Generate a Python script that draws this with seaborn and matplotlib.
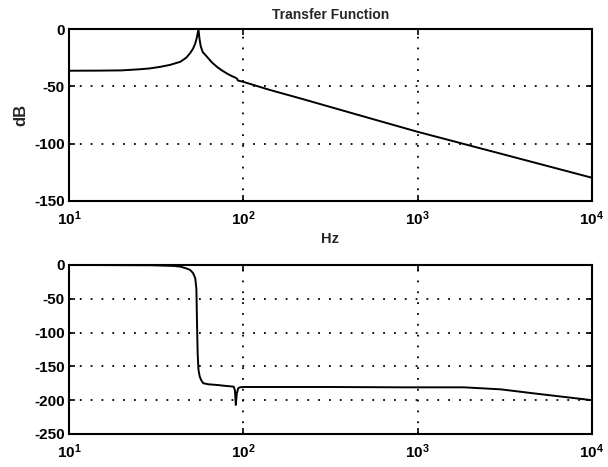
import matplotlib
matplotlib.use("Agg")
import matplotlib.pyplot as plt
import seaborn as sns
import pandas as pd
import numpy as np

# Magnitude (dB)
mag_freq = [10, 15, 20, 25.6, 29, 33.4, 38, 43.5, 47, 49.5, 51.5, 53, 54.2, 55.3,
            56.0, 57.0, 58.5, 61.8, 66, 70.6, 75, 80.5, 86, 90, 92, 93, 100, 143,
            213, 500, 1000, 3000, 10000]
mag_db = [-36.3, -36.2, -36.0, -35.0, -34.3, -32.9, -31.2, -28.5, -25.0, -21.0, -17.0,
          -12.5, -7.0, 0.0, -8.0, -15.0, -20.0, -24.0, -29.0, -32.9, -35.8, -38.7,
          -41.0, -42.3, -43.2, -44.8, -46.0, -53.2, -60.5, -76.6, -89.6, -108.7, -129.7]

# Phase (degrees)
ph_freq = [10, 30, 40, 43.5, 47, 49.5, 51.5, 53, 53.8, 54.2, 54.7, 55.3, 56.2,
           57.5, 59, 63, 70.6, 80, 88, 89.5, 90.6, 91.8, 93.5, 95.6, 100, 300,
           853, 1845, 3000, 4660, 10000]
ph_deg = [0, -0.5, -1.5, -2.5, -5, -7.4, -12, -19.7, -35, -80, -130, -155, -165,
          -171, -175, -176.5, -177.5, -179, -180, -185, -207, -190, -182.5, -181,
          -180.5, -180.5, -181, -181, -184, -190, -200]

mag_df = pd.DataFrame({"Hz": mag_freq, "dB": mag_db})
ph_df = pd.DataFrame({"Hz": ph_freq, "deg": ph_deg})

sns.set_style("ticks")
plt.rcParams["font.family"] = ["Liberation Sans", "DejaVu Sans"]
plt.rcParams["font.weight"] = "bold"
plt.rcParams["mathtext.fontset"] = "custom"
plt.rcParams["mathtext.rm"] = "Liberation Sans:bold"
plt.rcParams["mathtext.it"] = "Liberation Sans:bold"
plt.rcParams["mathtext.bf"] = "Liberation Sans:bold"
plt.rcParams["mathtext.default"] = "rm"

fig = plt.figure(figsize=(6.08, 4.67), dpi=100)
ax1 = fig.add_axes([0.1135, 0.5696, 0.860, 0.368])
ax2 = fig.add_axes([0.1135, 0.0707, 0.860, 0.362])

sns.lineplot(data=mag_df, x="Hz", y="dB", ax=ax1, color="black", lw=1.4,
             estimator=None, sort=False)
sns.lineplot(data=ph_df, x="Hz", y="deg", ax=ax2, color="black", lw=1.4,
             estimator=None, sort=False)

xticks = [10, 100, 1000, 10000]
xlabels = [r"$10^{1}$", r"$10^{2}$", r"$10^{3}$", r"$10^{4}$"]

for ax, yt, ylim in [(ax1, [0, -50, -100, -150], (-150, 0)),
                     (ax2, [0, -50, -100, -150, -200, -250], (-250, 0))]:
    ax.set_xscale("log")
    ax.set_xlim(10, 10000)
    ax.set_ylim(*ylim)
    ax.set_xticks(xticks)
    ax.set_xticklabels(xlabels)
    ax.xaxis.set_minor_locator(matplotlib.ticker.NullLocator())
    ax.set_yticks(yt)
    ax.set_yticklabels([str(v) for v in yt])
    ax.grid(True, which="major", color="black", linestyle=(0, (1, 5)), lw=1.3)
    ax.tick_params(direction="in", length=4, width=1.2, top=True, right=True,
                   labelsize=11, colors="black")
    ax.tick_params(axis="x", pad=6)
    ax.tick_params(axis="y", pad=3)
    for s in ax.spines.values():
        s.set_visible(True)
        s.set_linewidth(1.5)
        s.set_color("black")
    ax.set_ylabel("")
    ax.set_xlabel("")
    for lab in ax.get_yticklabels():
        lab.set_fontweight("bold")

ax1.set_title("Transfer Function", fontsize=10, fontweight="bold", pad=7)
ax1.set_ylabel("dB", fontsize=12, fontweight="bold", labelpad=4)
ax1.set_xlabel("Hz", fontsize=10.5, fontweight="bold", labelpad=3)

fig.savefig("out.png", dpi=100)
